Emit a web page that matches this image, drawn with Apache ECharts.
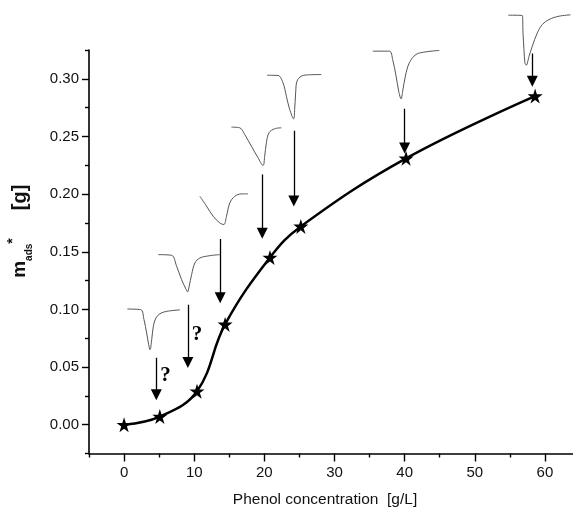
<!DOCTYPE html>
<html>
<head>
<meta charset="utf-8">
<script src="https://cdn.jsdelivr.net/npm/echarts@6/dist/echarts.min.js"></script>
<style>
html,body{margin:0;padding:0;background:#fff;}
#chart{width:573px;height:513px;}
</style>
</head>
<body>
<div id="chart"></div>
<script>
// ---- axis ticks ----
const xTicks = [0, 10, 20, 30, 40, 50, 60];
const xMinorTicks = [-5, 5, 15, 25, 35, 45, 55];
const yTicks = [0, 0.05, 0.1, 0.15, 0.2, 0.25, 0.3];
const yMinorTicks = [-0.025, 0.025, 0.075, 0.125, 0.175, 0.225, 0.275, 0.325];

// ---- main data ----
const concentration = [0, 5.1, 10.4, 14.4, 20.8, 25.2, 40.2, 58.6];
const mAds = [0, 0.007, 0.029, 0.087, 0.145, 0.172, 0.231, 0.285];

// ---- arrows (x, top, end) ----
const arrowX = [4.6, 9.1, 13.7, 19.7, 24.2, 40.0, 58.2];
const arrowTop = [0.058, 0.104, 0.161, 0.217, 0.255, 0.274, 0.322];
const arrowEnd = [0.026, 0.054, 0.110, 0.166, 0.194, 0.240, 0.298];

// ---- question marks ----
const questionX = [5.9, 10.4];
const questionY = [0.0425, 0.078];

// ---- inset peak traces ----
const inset1X = [0.47, 2.37, 2.84, 3.22, 3.51, 3.70, 3.94, 4.17, 4.55, 5.12, 6.07, 7.97];
const inset1Y = [0.1003, 0.0998, 0.0911, 0.0795, 0.0694, 0.0651, 0.0738, 0.0853, 0.0926, 0.0963, 0.0983, 0.0996];
const inset2X = [4.88, 6.78, 7.49, 8.20, 8.81, 9.05, 9.28, 9.63, 10.10, 10.81, 12.23, 13.65];
const inset2Y = [0.1475, 0.1469, 0.1374, 0.1258, 0.1178, 0.1152, 0.1201, 0.1302, 0.1403, 0.1446, 0.1466, 0.1475];
const inset3X = [10.81, 11.76, 12.70, 13.65, 14.22, 14.60, 15.07, 15.78, 16.73, 17.67];
const inset3Y = [0.1981, 0.1895, 0.1808, 0.1750, 0.1736, 0.1808, 0.1923, 0.1981, 0.2002, 0.2002];
const inset4X = [15.31, 16.49, 17.20, 18.15, 19.09, 19.81, 20.05, 20.29, 20.66, 21.47, 22.42];
const inset4Y = [0.2581, 0.2575, 0.2517, 0.2416, 0.2316, 0.2248, 0.2330, 0.2446, 0.2532, 0.2567, 0.2575];
const inset5X = [20.38, 21.95, 22.66, 23.14, 23.61, 24.18, 24.32, 24.46, 24.65, 25.27, 26.45, 28.11];
const inset5Y = [0.3031, 0.3029, 0.2965, 0.2849, 0.2734, 0.2653, 0.2734, 0.2878, 0.2979, 0.3023, 0.3035, 0.3037];
const inset6X = [35.45, 37.82, 38.29, 38.78, 39.15, 39.49, 39.72, 40.10, 40.67, 41.62, 43.04, 44.93];
const inset6Y = [0.3240, 0.3240, 0.3168, 0.3023, 0.2893, 0.2826, 0.2893, 0.3023, 0.3139, 0.3211, 0.3234, 0.3246];
const inset7X = [54.78, 56.77, 56.87, 57.01, 57.15, 57.34, 57.73, 58.20, 58.91, 59.62, 60.57, 61.99, 63.65];
const inset7Y = [0.3552, 0.3549, 0.3399, 0.3254, 0.3138, 0.3118, 0.3196, 0.3283, 0.3398, 0.3471, 0.3514, 0.3543, 0.3555];

const insets = [[inset1X, inset1Y], [inset2X, inset2Y], [inset3X, inset3Y], [inset4X, inset4Y],
                [inset5X, inset5Y], [inset6X, inset6Y], [inset7X, inset7Y]];

const FONT = '"Liberation Sans", Arial, Helvetica, sans-serif';
const STAR = 'path://M50,0 L61.2,34.5 L97.6,34.5 L68.2,55.9 L79.4,90.5 L50,69.1 L20.6,90.5 L31.8,55.9 L2.4,34.5 L38.8,34.5 Z';

const zip = (a, b) => a.map((v, i) => [v, b[i]]);

const series = [];
insets.forEach((p, i) => {
  series.push({
    type: 'line', name: 'inset' + (i + 1),
    data: zip(p[0], p[1]),
    showSymbol: false, symbol: 'none',
    smooth: 0.35, clip: false, silent: true,
    lineStyle: { color: '#555', width: 1 },
    z: 2
  });
});
series.push({
  type: 'lines', name: 'arrows', coordinateSystem: 'cartesian2d',
  data: arrowX.map((x, i) => ({ coords: [[x, arrowTop[i]], [x, arrowEnd[i]]] })),
  symbol: ['none', 'triangle'], symbolSize: [9, 11],
  lineStyle: { color: '#000', width: 1.3, opacity: 1 },
  silent: true, z: 3
});
series.push({
  type: 'line', name: 'm_ads*',
  data: zip(concentration, mAds),
  smooth: 0.4,
  symbol: STAR, symbolSize: 15, showSymbol: true,
  itemStyle: { color: '#000' },
  lineStyle: { color: '#000', width: 2.5 },
  clip: false, z: 4
});
series.push({
  type: 'scatter', name: 'question',
  data: zip(questionX, questionY),
  symbol: 'circle', symbolSize: 0.5,
  itemStyle: { color: '#000', opacity: 1 },
  label: {
    show: true, position: 'inside', formatter: '?', opacity: 1,
    fontFamily: '"Liberation Serif", "Times New Roman", serif',
    fontWeight: 'bold', fontSize: 21, color: '#000'
  },
  silent: true, z: 5
});

const chart = echarts.init(document.getElementById('chart'), null, { renderer: 'canvas' });
chart.setOption({
  backgroundColor: '#fff',
  animation: false,
  grid: { left: 89, right: 0, top: 50, bottom: 59.5, containLabel: false, outerBoundsMode: 'none' },
  xAxis: [{
    type: 'value', min: -5, max: 64, position: 'bottom',
    name: 'Phenol concentration  [g/L]', nameLocation: 'middle', nameGap: 38,
    nameTextStyle: { fontFamily: FONT, fontSize: 15.5, color: '#111', padding: [0, 12, 0, 0] },
    axisLine: { show: true, onZero: false, lineStyle: { color: '#000', width: 1.6 } },
    axisTick: { show: true, inside: false, length: 8, customValues: xTicks, lineStyle: { color: '#000', width: 1.4 } },
    axisLabel: { show: true, customValues: xTicks, margin: 12, fontFamily: FONT, fontSize: 15, color: '#111' },
    splitLine: { show: false }
  }, {
    type: 'value', min: -5, max: 64, position: 'bottom', offset: 0,
    axisLine: { show: false, onZero: false },
    axisTick: { show: true, inside: false, length: 4, customValues: xMinorTicks, lineStyle: { color: '#000', width: 1.4 } },
    axisLabel: { show: false },
    splitLine: { show: false }
  }],
  yAxis: [{
    type: 'value', min: -0.025, max: 0.325, position: 'left',
    name: '{m|m}{sub|ads}{sup|*}{sp| }{g|[g]}', nameLocation: 'middle', nameGap: 55,
    nameTextStyle: {
      padding: [0, 0, 0, 41],
      rich: {
        m: { fontFamily: FONT, fontWeight: 'bold', fontSize: 19, lineHeight: 28, color: '#111' },
        sub: { fontFamily: FONT, fontWeight: 'bold', fontSize: 10, lineHeight: 10, verticalAlign: 'bottom', color: '#111' },
        sup: { fontFamily: FONT, fontWeight: 'bold', fontSize: 14, lineHeight: 18, verticalAlign: 'top', color: '#111' },
        sp: { fontFamily: FONT, fontSize: 18, lineHeight: 28, width: 28 },
        g: { fontFamily: FONT, fontWeight: 'bold', fontSize: 20, lineHeight: 28, color: '#111' }
      }
    },
    axisLine: { show: true, onZero: false, lineStyle: { color: '#000', width: 1.6 } },
    axisTick: { show: true, inside: false, length: 7, customValues: yTicks, lineStyle: { color: '#000', width: 1.4 } },
    axisLabel: { show: true, customValues: yTicks, margin: 10, fontFamily: FONT, fontSize: 15, color: '#111',
                 formatter: v => v.toFixed(2) },
    splitLine: { show: false }
  }, {
    type: 'value', min: -0.025, max: 0.325, position: 'left', offset: 0,
    axisLine: { show: false, onZero: false },
    axisTick: { show: true, inside: false, length: 4, customValues: yMinorTicks, lineStyle: { color: '#000', width: 1.4 } },
    axisLabel: { show: false },
    splitLine: { show: false }
  }],
  series: series
});
</script>
</body>
</html>
